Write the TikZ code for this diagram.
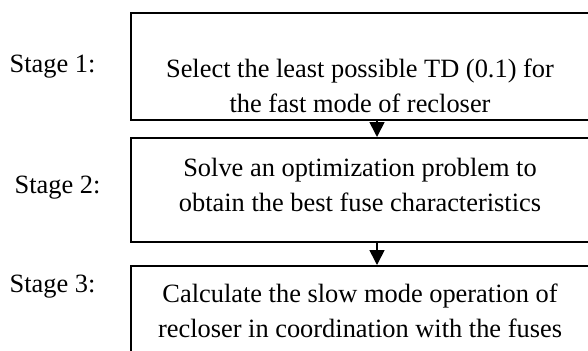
\documentclass[tikz,border=0pt]{standalone}
\usepackage{fontspec}
\setmainfont{Liberation Serif}
\usetikzlibrary{arrows.meta}

\begin{document}
\begin{tikzpicture}[x=0.5pt, y=-0.5pt,
  stagebox/.style={draw, line width=1pt, minimum width=229pt, inner sep=0pt},
  steptext/.style={align=center, inner sep=0pt, font=\fontsize{13.2}{17.5}\selectfont},
  flow/.style={line width=0.8pt, -{Triangle[width=7.5pt, length=7.5pt]}}]
\useasboundingbox (0,0) rectangle (588,350);
\clip (0,0) rectangle (588,350);
\draw
(360, 66.5) node[stagebox, minimum height=53.5pt](box1){}
(360, 190) node[stagebox, minimum height=52pt](box2){}
(360, 319) node[stagebox, minimum height=53pt](box3){};

\draw
(360, 86) node[steptext](t1){Select the least possible TD (0.1) for\\the fast mode of recloser}
(360, 185) node[steptext](t2){Solve an optimization problem to\\obtain the best fuse characteristics}
(360, 311) node[steptext](t3){Calculate the slow mode operation of\\recloser in coordination with the fuses}
(52.5, 67) node[steptext](s1){Stage 1:}
(57.5, 188) node[steptext](s2){Stage 2:}
(52.5, 287) node[steptext](s3){Stage 3:};

\coordinate (ax) at (377, 0);
\draw[flow] (box1.south -| ax) -- (box2.north -| ax);
\draw[flow] (box2.south -| ax) -- (box3.north -| ax);

\end{tikzpicture}
\end{document}
